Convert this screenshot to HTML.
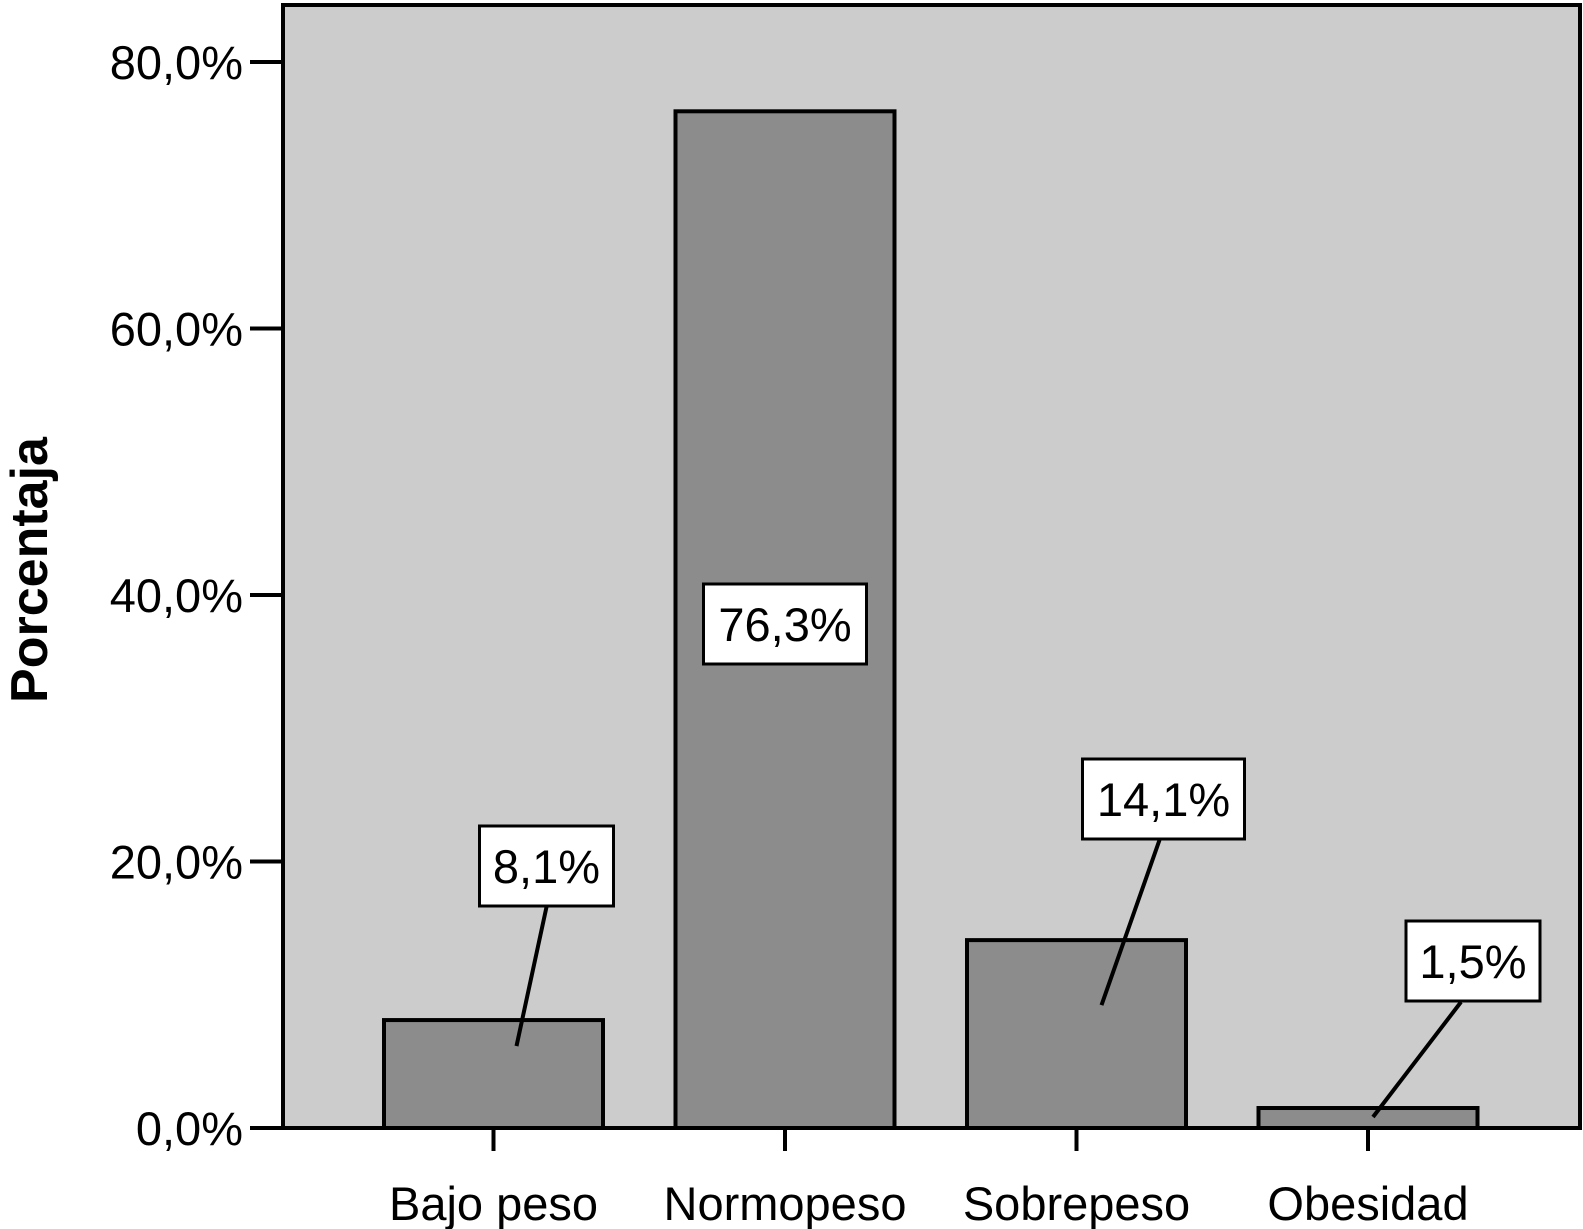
<!DOCTYPE html>
<html><head><meta charset="utf-8"><style>
html,body{margin:0;padding:0;background:#fff;}
svg{display:block;font-family:"Liberation Sans",Arial,sans-serif;}
</style></head><body>
<svg id="chart" width="1583" height="1229" viewBox="0 0 1583 1229">
<rect x="283" y="5" width="1297" height="1123" fill="#cccccc" stroke="#000" stroke-width="4"/>
<g id="bars"></g><g id="axes"></g><g id="labels"></g>
<text transform="translate(47,570) rotate(-90)" text-anchor="middle" font-size="52" font-weight="bold">Porcentaja</text>
</svg>
<script>
const categories = ["Bajo peso","Normopeso","Sobrepeso","Obesidad"];
const values = [8.1, 76.3, 14.1, 1.5];
const valueLabels = ["8,1%","76,3%","14,1%","1,5%"];
const yTicks = [0,20,40,60,80];
const yTickLabels = ["0,0%","20,0%","40,0%","60,0%","80,0%"];
const NS="http://www.w3.org/2000/svg";
const y0=1128, pxPer=266.5/20;
const y=v=>y0-v*pxPer;
const x=i=>493.5+i*291.5;
const bw=219;
function mk(tag,attrs,parent,text){const e=document.createElementNS(NS,tag);for(const k in attrs)e.setAttribute(k,attrs[k]);if(text!=null)e.textContent=text;document.getElementById(parent).appendChild(e);return e;}
const boxDx=[53,0,87,105];
const boxCy=[866,624,799,961];
const boxW=[134,163,162,134];
categories.forEach((c,i)=>{
  const b=mk('rect',{x:x(i)-bw/2,y:y(values[i]),width:bw,height:y0-y(values[i]),fill:'#8c8c8c',stroke:'#000','stroke-width':4},'bars');
  
  
  const t=mk('line',{x1:x(i),x2:x(i),y1:y0,y2:y0+23,stroke:'#000','stroke-width':4},'axes');
  
  
  const l=mk('text',{x:x(i),y:1220,'text-anchor':'middle','font-size':47},'axes',c);
  
  
  const bx=x(i)+boxDx[i], by=boxCy[i];
  if(i!==1){
    const hx=x(i)+[23,0,25,5][i];
    const hy=y(values[i])+[26,0,65,9][i];
    const ln=mk('line',{x1:bx+[0,0,-4,-12][i],y1:by+41,x2:hx,y2:hy,stroke:'#000','stroke-width':4},'labels');
    
    
  }
  const r=mk('rect',{x:bx-boxW[i]/2,y:by-40,width:boxW[i],height:80,fill:'#fff',stroke:'#000','stroke-width':3},'labels');
  
  
  const vt=mk('text',{x:bx,y:by+17,'text-anchor':'middle','font-size':47},'labels',valueLabels[i]);
  
  
});
yTicks.forEach((v,i)=>{
  const t=mk('line',{x1:250,x2:283,y1:y(v),y2:y(v),stroke:'#000','stroke-width':4},'axes');
  
  
  const l=mk('text',{x:243,y:y(v)+17,'text-anchor':'end','font-size':47},'axes',yTickLabels[i]);
  
  
});
</script>
</body></html>
